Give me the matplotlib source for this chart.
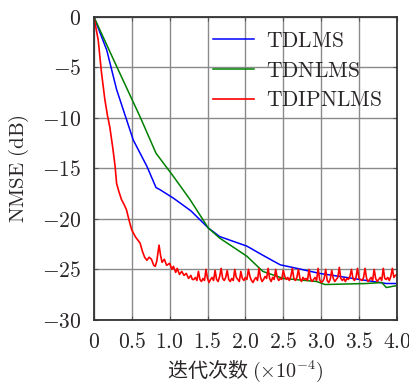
import matplotlib
matplotlib.use("Agg")
import matplotlib.pyplot as plt
import numpy as np

plt.rcParams['mathtext.fontset'] = 'cm'

# ---------------- data ----------------
x_ticks = [0, 0.5, 1.0, 1.5, 2.0, 2.5, 3.0, 3.5, 4.0]
x_ticklabels = ['0', '0.5', '1.0', '1.5', '2.0', '2.5', '3.0', '3.5', '4.0']
y_ticks = [0, -5, -10, -15, -20, -25, -30]

tdlms_x = [0, 0.17, 0.30, 0.52, 0.70, 0.82, 0.87, 1.05, 1.28, 1.51, 1.66, 2.02,
           2.23, 2.46, 2.68, 2.98, 3.51, 3.86, 4.0]
tdlms_y = [0, -3.3, -7.2, -12.2, -14.8, -16.9, -17.1, -17.95, -19.2, -20.9, -21.75,
           -22.7, -23.6, -24.55, -24.9, -25.4, -26.0, -26.4, -26.4]

tdnlms_x = [0, 0.30, 0.61, 0.82, 1.05, 1.27, 1.51, 1.66, 2.02, 2.23, 2.50, 2.94,
            3.05, 3.60, 3.80, 3.86, 4.0]
tdnlms_y = [0, -4.9, -9.9, -13.5, -15.8, -18.1, -20.9, -21.9, -23.7, -25.2, -25.9,
            -26.2, -26.5, -26.4, -26.3, -26.8, -26.6]

tdipnlms_x_early = [0, 0.02, 0.057, 0.10, 0.145, 0.18, 0.21, 0.25, 0.28, 0.30, 0.33,
                    0.365, 0.40, 0.43, 0.47, 0.50, 0.55, 0.61, 0.64, 0.67, 0.70,
                    0.73, 0.76, 0.79, 0.81, 0.83, 0.86, 0.88, 0.90, 0.93, 0.96,
                    1.00, 1.03, 1.05, 1.08, 1.10, 1.13, 1.16, 1.19, 1.22, 1.25,
                    1.28, 1.30]
tdipnlms_y_early = [0, -0.8, -2.3, -5.5, -8.2, -9.8, -10.9, -13.0, -14.8, -16.5, -17.3,
                    -18.1, -18.6, -19.1, -20.3, -21.1, -21.8, -22.4, -23.2, -23.8, -24.1,
                    -23.8, -24.0, -24.6, -24.7, -24.2, -22.6, -23.6, -24.3, -24.0, -24.6,
                    -24.4, -25.0, -24.7, -25.3, -24.9, -25.5, -25.2, -25.6, -25.4, -25.9,
                    -25.6, -26.0]
# steady-state part, sampled every 0.02 from 1.32 to 4.00
tdipnlms_y_late = [
    -26.0, -25.8, -26.1, -25.2, -26.0,
    -26.2, -25.9, -26.1, -25.0, -25.9,
    -26.3, -26.0, -25.8, -26.1, -25.1,
    -26.0, -26.2, -25.7, -24.9, -25.9,
    -26.1, -25.8, -25.1, -26.0, -26.2,
    -25.9, -26.1, -25.0, -25.8, -26.0,
    -26.2, -25.2, -25.9, -26.1, -25.8,
    -26.0, -25.0, -25.7, -26.1, -26.3,
    -26.0, -25.8, -26.1, -24.9, -25.8,
    -26.2, -26.0, -25.7, -25.9, -24.9,
    -25.9, -26.2, -25.8, -26.0, -25.0,
    -25.8, -26.1, -25.9, -26.0, -25.1,
    -25.7, -26.0, -25.8, -26.1, -25.7,
    -24.9, -25.9, -26.1, -25.8, -25.0,
    -25.9, -26.2, -25.8, -26.0, -25.9,
    -26.1, -25.0, -25.9, -26.2, -26.0,
    -25.8, -26.1, -24.9, -26.0, -26.3,
    -26.2, -25.9, -25.0, -26.1, -26.3,
    -26.0, -25.1, -25.9, -26.2, -26.0,
    -25.8, -24.8, -25.9, -26.1, -25.9,
    -26.2, -25.9, -26.0, -25.7, -25.0,
    -25.9, -26.1, -25.8, -24.9, -25.9,
    -26.0, -26.1, -25.8, -24.9, -25.9,
    -26.2, -26.0, -25.8, -26.1, -25.0,
    -25.9, -26.2, -26.0, -25.8, -26.1,
    -24.9, -25.9, -26.0, -25.8, -26.1,
    -25.7, -24.9, -25.8, -25.6, -25.5,
]
tdipnlms_x_late = list(np.round(np.arange(1.32, 4.0001, 0.02), 2))

labels = ['TDLMS', 'TDNLMS', 'TDIPNLMS']
colors = ['#0000ff', '#008000', '#ff0000']

TXT = '#2a2626'

# ---------------- plot ----------------
fig = plt.figure(figsize=(4.10, 3.92), dpi=100)
ax = fig.add_axes([0.229, 0.184, 0.739, 0.773])

ax.plot(tdlms_x, tdlms_y, color=colors[0], lw=1.1, label=r'$\mathrm{%s}$' % labels[0])
ax.plot(tdnlms_x, tdnlms_y, color=colors[1], lw=1.1, label=r'$\mathrm{%s}$' % labels[1])
ax.plot(tdipnlms_x_early + tdipnlms_x_late, tdipnlms_y_early + tdipnlms_y_late,
        color=colors[2], lw=1.2, label=r'$\mathrm{%s}$' % labels[2])

ax.set_xlim(0, 4.0)
ax.set_ylim(-30, 0)
ax.set_xticks(x_ticks)
ax.set_xticklabels([r'$%s$' % t for t in x_ticklabels])
ax.set_yticks(y_ticks)
ax.set_yticklabels([r'$%d$' % t for t in y_ticks])
ax.tick_params(direction='in', length=3, labelsize=15.5, pad=9, colors='#555555',
               labelcolor=TXT, top=True, right=True)
ax.grid(True, color='#8a8a8a', lw=1.0)
for s in ax.spines.values():
    s.set_color('#333333')
    s.set_linewidth(1.3)

ax.set_ylabel(r'$\mathrm{NMSE\ (dB)}$', fontsize=15, labelpad=8, color=TXT)
ax.set_xlabel(r'迭代次数 $(\times10^{-4})$', fontsize=14.5,
              family=['Noto Sans CJK SC', 'DejaVu Sans'], labelpad=4, color=TXT)

leg = ax.legend(loc='upper right', frameon=False, fontsize=15.5, handlelength=1.9,
                handletextpad=0.6, labelspacing=0.45, borderaxespad=0.25)
for t in leg.get_texts():
    t.set_color(TXT)

fig.savefig('out.png', dpi=100)
